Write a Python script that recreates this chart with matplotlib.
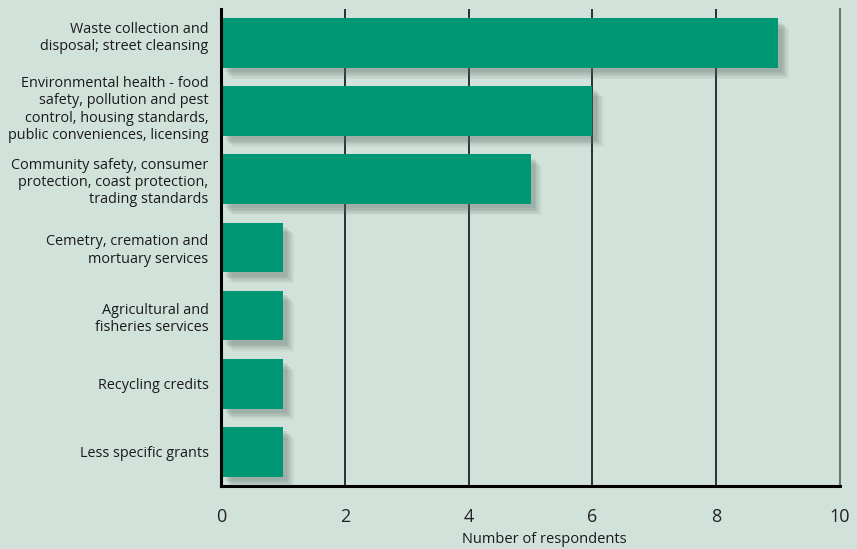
import matplotlib.pyplot as plt
import matplotlib.patheffects as pe
import matplotlib.transforms as mtransforms

plt.rcParams['font.family'] = ['Open Sans', 'DejaVu Sans']

categories = [
    'Waste collection and\ndisposal; street cleansing',
    'Environmental health - food\nsafety, pollution and pest\ncontrol, housing standards,\npublic conveniences, licensing',
    'Community safety, consumer\nprotection, coast protection,\ntrading standards',
    'Cemetry, cremation and\nmortuary services',
    'Agricultural and\nfisheries services',
    'Recycling credits',
    'Less specific grants',
]
respondents = [9, 6, 5, 1, 1, 1, 1]
x_ticks = [0, 2, 4, 6, 8, 10]
# upward nudge (points) for the long labels so they sit a little higher
label_lift = [6, 3.5, 0, 0, 0, 0, 0]

bg = '#d1e2da'
bar_color = '#009775'

fig = plt.figure(figsize=(8.57, 5.49), dpi=100, facecolor=bg)
ax = fig.add_axes([0.2579, 0.1148, 0.7223, 0.8689], facecolor=bg)

ypos = list(range(len(categories)))

# soft drop shadow built from a few stacked offsets
shadow = [pe.SimplePatchShadow(offset=(d, -d), shadow_rgbFace='#5a6a62', alpha=a)
          for d, a in [(8, 0.05), (7, 0.07), (6, 0.08), (5, 0.1), (4, 0.1), (3, 0.1)]]
ax.barh(ypos, respondents, height=0.73, color=bar_color, zorder=3,
        path_effects=shadow + [pe.Normal()])

ax.set_xlim(0, 10)
ax.set_ylim(6.5, -0.5)
ax.set_xticks(x_ticks)
ax.set_xticklabels([str(t) for t in x_ticks], fontsize=13, color='#222222')
ax.set_yticks(ypos)
ax.set_yticklabels(categories, fontsize=10.4, color='#1a1a1a', ha='right',
                   multialignment='right')
ax.tick_params(axis='x', length=0, pad=16)
ax.tick_params(axis='y', length=0, pad=9)

for lbl, lift in zip(ax.get_yticklabels(), label_lift):
    if lift:
        off = mtransforms.ScaledTranslation(0, lift / 72, fig.dpi_scale_trans)
        lbl.set_transform(lbl.get_transform() + off)

for t in x_ticks[1:-1]:
    ax.axvline(t, color='black', lw=1.1, zorder=1)

ax.spines['top'].set_visible(False)
ax.spines['right'].set_color('#6b746f')
ax.spines['right'].set_linewidth(1.5)
ax.spines['left'].set_linewidth(2.2)
ax.spines['bottom'].set_linewidth(2.2)
ax.spines['left'].set_zorder(4)

# axis title sits right at the bottom edge
fig.text(0.635, 0.004, 'Number of respondents', fontsize=10.5, color='#1a1a1a',
         ha='center', va='bottom')

fig.savefig('out.png', dpi=100, facecolor=bg)
